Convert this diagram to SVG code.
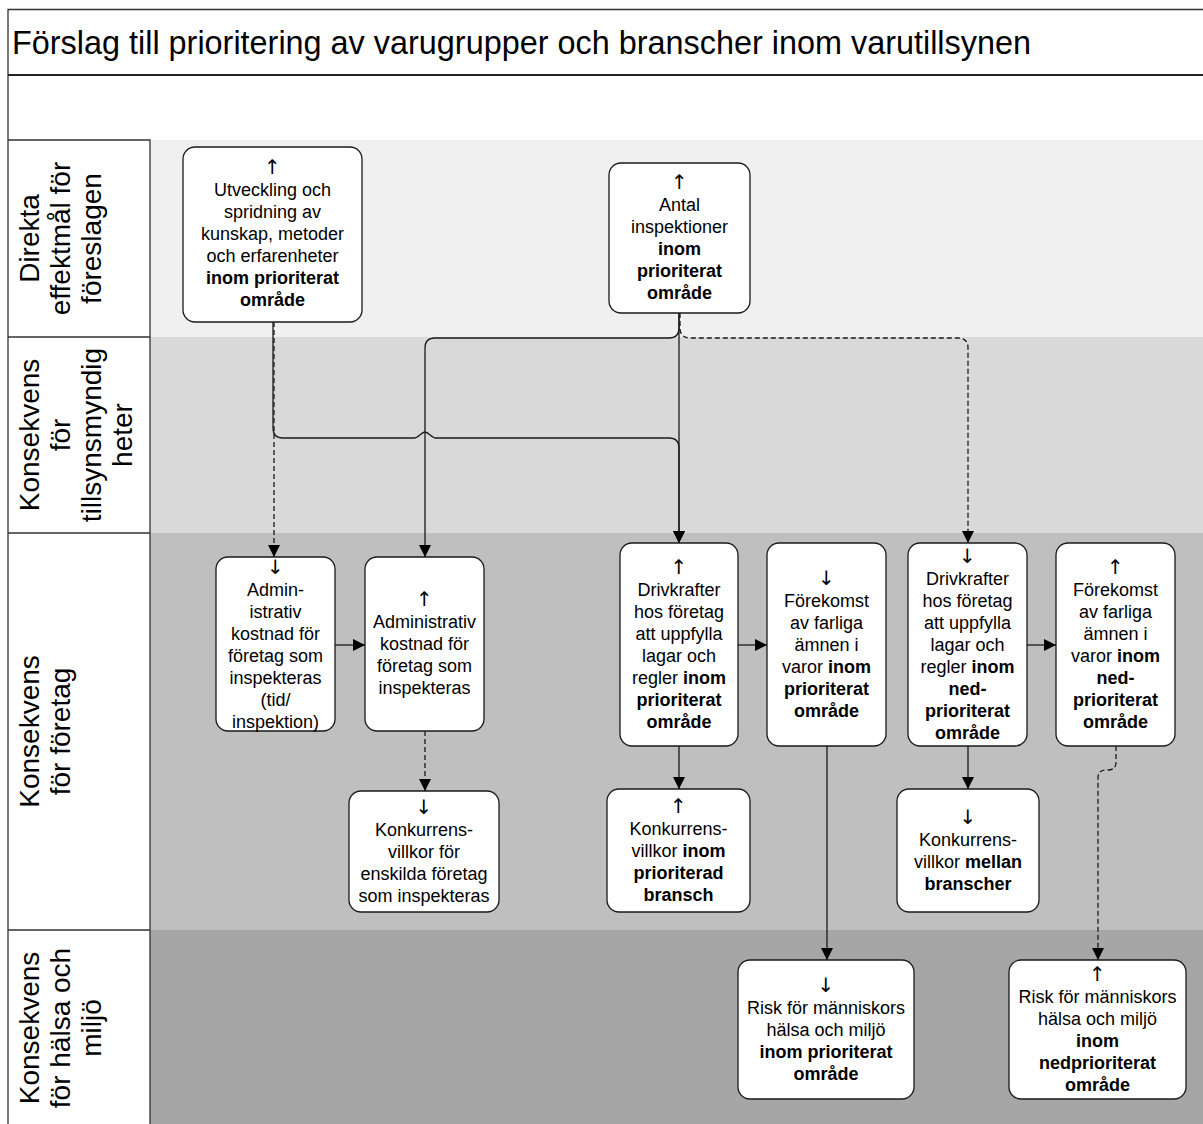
<svg xmlns="http://www.w3.org/2000/svg" width="1203" height="1124" viewBox="0 0 1203 1124">
<style>
.box{fill:#fff;stroke:#1a1a1a;stroke-width:1.3}
.t{font-family:"Liberation Sans",Arial,sans-serif;font-size:18px;fill:#000;text-anchor:middle}
.b{font-weight:bold}
.ar{font-family:"DejaVu Sans",sans-serif;font-size:20px;fill:#000}
.lab{font-family:"Liberation Sans",Arial,sans-serif;font-size:28px;fill:#000;text-anchor:middle}
.c{fill:none;stroke:#1a1a1a;stroke-width:1.3}
.d{stroke-dasharray:5 3}
.fr{stroke:#333;stroke-width:1.3;fill:none}
</style>
<defs>
<marker id="ah" viewBox="0 0 12 12" refX="12" refY="6" markerWidth="12" markerHeight="12" markerUnits="userSpaceOnUse" orient="auto"><path d="M0,0 L12,6 L0,12 z" fill="#000"/></marker>
</defs>
<g id="background">
<rect x="0" y="0" width="1203" height="1124" fill="#fff"/>
<rect x="150" y="140" width="1053" height="197" fill="#f0f0f0"/>
<rect x="150" y="337" width="1053" height="196" fill="#d9d9d9"/>
<rect x="150" y="533" width="1053" height="397" fill="#bfbfbf"/>
<rect x="150" y="930" width="1053" height="194" fill="#a6a6a6"/>
<path class="fr" d="M8,1124 V9.5 H1203"/>
<path d="M8,75 H1203" stroke="#222" stroke-width="2"/>
<path class="fr" d="M8,140 H150 V1124 M8,337 H150 M8,533 H150 M8,930 H150"/>
</g>
<g id="title">
<text x="12" y="54" font-family="'Liberation Sans',Arial,sans-serif" font-size="32.4" fill="#000">Förslag till prioritering av varugrupper och branscher inom varutillsynen</text>
</g>
<g id="lanes">
<g id="lane1"><text class="lab" transform="translate(39,238.5) rotate(-90)">Direkta</text><text class="lab" transform="translate(70,238.5) rotate(-90)">effektmål för</text><text class="lab" transform="translate(101,238.5) rotate(-90)">föreslagen</text></g>
<g id="lane2"><text class="lab" transform="translate(39,435) rotate(-90)">Konsekvens</text><text class="lab" transform="translate(70,435) rotate(-90)">för</text><text class="lab" transform="translate(101,435) rotate(-90)">tillsynsmyndig</text><text class="lab" transform="translate(132,435) rotate(-90)">heter</text></g>
<g id="lane3"><text class="lab" transform="translate(39,731.5) rotate(-90)">Konsekvens</text><text class="lab" transform="translate(70,731.5) rotate(-90)">för företag</text></g>
<g id="lane4"><text class="lab" transform="translate(39,1028) rotate(-90)">Konsekvens</text><text class="lab" transform="translate(70,1028) rotate(-90)">för hälsa och</text><text class="lab" transform="translate(101,1028) rotate(-90)">miljö</text></g>
</g>
<g id="connectors">
<path class="c d" d="M274,322 V557" marker-end="url(#ah)"/>
<path class="c" d="M273,322 V428 Q273,438 283,438 H414 C419,438 421,432 425,432 C429,432 431,438 436,438 H669 Q679,438 679,448 V543" marker-end="url(#ah)"/>
<path class="c" d="M679,313 V543" marker-end="url(#ah)"/>
<path class="c" d="M679,313 V328 Q679,338 669,338 H435 Q425,338 425,348 V557" marker-end="url(#ah)"/>
<path class="c d" d="M680,313 V328 Q680,338 690,338 H958 Q968,338 968,348 V543" marker-end="url(#ah)"/>
<path class="c" d="M335,645 H365" marker-end="url(#ah)"/>
<path class="c d" d="M425,731 V791" marker-end="url(#ah)"/>
<path class="c" d="M738,645 H767" marker-end="url(#ah)"/>
<path class="c" d="M679,746 V789" marker-end="url(#ah)"/>
<path class="c" d="M827,746 V960" marker-end="url(#ah)"/>
<path class="c" d="M1027,645 H1056" marker-end="url(#ah)"/>
<path class="c" d="M968,746 V789" marker-end="url(#ah)"/>
<path class="c d" d="M1116,746 V762 Q1116,770 1108,770 H1106 Q1098,770 1098,778 V960" marker-end="url(#ah)"/>
</g>
<g id="n1"><rect class="box" x="183" y="147" width="179" height="175" rx="12"/>
<text class="t" x="272.5" y="174"><tspan class="ar">↑</tspan><tspan x="272.5" dy="22">Utveckling och</tspan><tspan x="272.5" dy="22">spridning av</tspan><tspan x="272.5" dy="22">kunskap, metoder</tspan><tspan x="272.5" dy="22">och erfarenheter</tspan><tspan x="272.5" dy="22" class="b">inom prioriterat</tspan><tspan x="272.5" dy="22" class="b">område</tspan></text></g>
<g id="n2"><rect class="box" x="609" y="163" width="141" height="150" rx="12"/>
<text class="t" x="679.5" y="189"><tspan class="ar">↑</tspan><tspan x="679.5" dy="22">Antal</tspan><tspan x="679.5" dy="22">inspektioner</tspan><tspan x="679.5" dy="22" class="b">inom</tspan><tspan x="679.5" dy="22" class="b">prioriterat</tspan><tspan x="679.5" dy="22" class="b">område</tspan></text></g>
<g id="n3"><rect class="box" x="216" y="557" width="119" height="174" rx="12"/>
<text class="t" x="275.5" y="574"><tspan class="ar">↓</tspan><tspan x="275.5" dy="22">Admin-</tspan><tspan x="275.5" dy="22">istrativ</tspan><tspan x="275.5" dy="22">kostnad för</tspan><tspan x="275.5" dy="22">företag som</tspan><tspan x="275.5" dy="22">inspekteras</tspan><tspan x="275.5" dy="22">(tid/</tspan><tspan x="275.5" dy="22">inspektion)</tspan></text></g>
<g id="n4"><rect class="box" x="365" y="557" width="119" height="174" rx="12"/>
<text class="t" x="424.5" y="606"><tspan class="ar">↑</tspan><tspan x="424.5" dy="22">Administrativ</tspan><tspan x="424.5" dy="22">kostnad för</tspan><tspan x="424.5" dy="22">företag som</tspan><tspan x="424.5" dy="22">inspekteras</tspan></text></g>
<g id="n5"><rect class="box" x="349" y="791" width="150" height="121" rx="12"/>
<text class="t" x="424" y="814"><tspan class="ar">↓</tspan><tspan x="424" dy="22">Konkurrens-</tspan><tspan x="424" dy="22">villkor för</tspan><tspan x="424" dy="22">enskilda företag</tspan><tspan x="424" dy="22">som inspekteras</tspan></text></g>
<g id="n6"><rect class="box" x="620" y="543" width="118" height="203" rx="12"/>
<text class="t" x="679" y="573.5"><tspan class="ar">↑</tspan><tspan x="679" dy="22">Drivkrafter</tspan><tspan x="679" dy="22">hos företag</tspan><tspan x="679" dy="22">att uppfylla</tspan><tspan x="679" dy="22">lagar och</tspan><tspan x="679" dy="22">regler <tspan class="b">inom</tspan></tspan><tspan x="679" dy="22" class="b">prioriterat</tspan><tspan x="679" dy="22" class="b">område</tspan></text></g>
<g id="n7"><rect class="box" x="767" y="543" width="119" height="203" rx="12"/>
<text class="t" x="826.5" y="584.5"><tspan class="ar">↓</tspan><tspan x="826.5" dy="22">Förekomst</tspan><tspan x="826.5" dy="22">av farliga</tspan><tspan x="826.5" dy="22">ämnen i</tspan><tspan x="826.5" dy="22">varor <tspan class="b">inom</tspan></tspan><tspan x="826.5" dy="22" class="b">prioriterat</tspan><tspan x="826.5" dy="22" class="b">område</tspan></text></g>
<g id="n8"><rect class="box" x="908" y="543" width="119" height="203" rx="12"/>
<text class="t" x="967.5" y="562.5"><tspan class="ar">↓</tspan><tspan x="967.5" dy="22">Drivkrafter</tspan><tspan x="967.5" dy="22">hos företag</tspan><tspan x="967.5" dy="22">att uppfylla</tspan><tspan x="967.5" dy="22">lagar och</tspan><tspan x="967.5" dy="22">regler <tspan class="b">inom</tspan></tspan><tspan x="967.5" dy="22" class="b">ned-</tspan><tspan x="967.5" dy="22" class="b">prioriterat</tspan><tspan x="967.5" dy="22" class="b">område</tspan></text></g>
<g id="n9"><rect class="box" x="1056" y="543" width="119" height="203" rx="12"/>
<text class="t" x="1115.5" y="573.5"><tspan class="ar">↑</tspan><tspan x="1115.5" dy="22">Förekomst</tspan><tspan x="1115.5" dy="22">av farliga</tspan><tspan x="1115.5" dy="22">ämnen i</tspan><tspan x="1115.5" dy="22">varor <tspan class="b">inom</tspan></tspan><tspan x="1115.5" dy="22" class="b">ned-</tspan><tspan x="1115.5" dy="22" class="b">prioriterat</tspan><tspan x="1115.5" dy="22" class="b">område</tspan></text></g>
<g id="n10"><rect class="box" x="607" y="789" width="143" height="123" rx="12"/>
<text class="t" x="678.5" y="812.5"><tspan class="ar">↑</tspan><tspan x="678.5" dy="22">Konkurrens-</tspan><tspan x="678.5" dy="22">villkor <tspan class="b">inom</tspan></tspan><tspan x="678.5" dy="22" class="b">prioriterad</tspan><tspan x="678.5" dy="22" class="b">bransch</tspan></text></g>
<g id="n11"><rect class="box" x="897" y="789" width="142" height="123" rx="12"/>
<text class="t" x="968" y="823.5"><tspan class="ar">↓</tspan><tspan x="968" dy="22">Konkurrens-</tspan><tspan x="968" dy="22">villkor <tspan class="b">mellan</tspan></tspan><tspan x="968" dy="22" class="b">branscher</tspan></text></g>
<g id="n12"><rect class="box" x="738" y="960" width="176" height="139" rx="12"/>
<text class="t" x="826" y="991.5"><tspan class="ar">↓</tspan><tspan x="826" dy="22">Risk för människors</tspan><tspan x="826" dy="22">hälsa och miljö</tspan><tspan x="826" dy="22" class="b">inom prioriterat</tspan><tspan x="826" dy="22" class="b">område</tspan></text></g>
<g id="n13"><rect class="box" x="1009" y="960" width="177" height="139" rx="12"/>
<text class="t" x="1097.5" y="980.5"><tspan class="ar">↑</tspan><tspan x="1097.5" dy="22">Risk för människors</tspan><tspan x="1097.5" dy="22">hälsa och miljö</tspan><tspan x="1097.5" dy="22" class="b">inom</tspan><tspan x="1097.5" dy="22" class="b">nedprioriterat</tspan><tspan x="1097.5" dy="22" class="b">område</tspan></text></g>
</svg>
